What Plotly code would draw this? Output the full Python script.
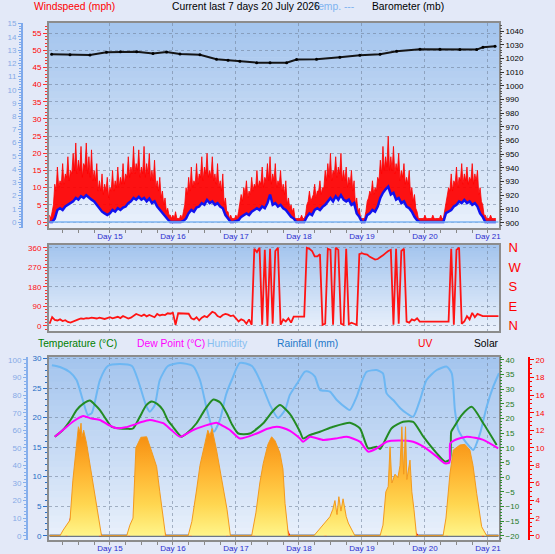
import plotly.graph_objects as go

W, H = 555, 554
FONT = "Liberation Sans, Arial, sans-serif"

# ---------------- data ----------------
day_ticks = [24, 48, 72, 96, 120, 144, 168]
day_labels = ["Day 15", "Day 16", "Day 17", "Day 18", "Day 19", "Day 20", "Day 21"]

# hours since Day 14 00:00
wind_hours = list(range(1, 172))
wind_gust = [2, 3, 11, 16, 12, 17, 14, 19, 15, 20,
             23, 18, 22, 17, 23, 19, 21, 15, 17, 12,
             14, 11, 13, 10, 15, 12, 16, 13, 17, 14,
             19, 16, 22, 17, 21, 16, 22, 17, 20, 15,
             18, 12, 13, 9, 7, 4, 2, 2, 3, 1,
             2, 3, 10, 13, 16, 12, 17, 14, 19, 16,
             20, 15, 19, 14, 17, 12, 14, 7, 3, 2,
             1, 2, 3, 8, 10, 12, 9, 13, 11, 15,
             12, 16, 13, 17, 19, 14, 17, 12, 15, 11,
             12, 7, 5, 4, 1, 1, 2, 1, 5, 9,
             7, 11, 9, 12, 10, 15, 17, 20, 15, 19,
             16, 20, 15, 16, 13, 15, 12, 7, 4, 1,
             1, 6, 9, 12, 10, 13, 18, 22, 19, 25,
             19, 22, 17, 20, 15, 17, 13, 15, 10, 8,
             3, 1, 1, 2, 1, 1, 2, 1, 1, 2,
             1, 6, 10, 14, 12, 16, 13, 17, 14, 16,
             13, 17, 14, 15, 10, 5, 2, 1, 2, 1, 1]
# gust readings at the half hours (h + 0.5, h = 1..170)
gust_mid_hours = [h + 0.5 for h in range(1, 171)]
gust_mid = [1, 5, 9, 10, 11, 11, 13, 12, 14, 15,
            14, 15, 13, 16, 14, 13, 12, 12, 9, 9,
            8, 9, 7, 9, 9, 10, 10, 11, 11, 13,
            13, 14, 14, 15, 13, 14, 13, 14, 12, 12,
            10, 9, 7, 5, 3, 2, 1, 1, 1, 1,
            1, 5, 8, 9, 10, 11, 11, 13, 12, 14,
            13, 13, 12, 11, 10, 9, 5, 3, 1, 1,
            1, 1, 5, 6, 8, 7, 8, 9, 10, 10,
            11, 10, 12, 12, 11, 12, 10, 11, 9, 8,
            5, 4, 3, 1, 1, 1, 1, 2, 6, 6,
            8, 7, 9, 8, 10, 12, 13, 12, 14, 13,
            14, 12, 12, 10, 11, 9, 5, 3, 1, 1,
            3, 7, 8, 8, 9, 12, 14, 15, 16, 15,
            15, 14, 15, 12, 13, 11, 11, 8, 6, 4,
            1, 1, 1, 1, 1, 1, 1, 1, 1, 1,
            3, 7, 9, 9, 11, 10, 12, 11, 12, 11,
            12, 11, 12, 8, 6, 2, 1, 1, 1, 1]
wind_avg = [0, 0, 1, 3.5, 4, 3.5, 4.5, 5, 5.5, 6,
            7, 6.5, 7.5, 7, 7.8, 7, 6.5, 6, 5, 4,
            3, 2.5, 2, 2.5, 3.5, 3, 4, 3.5, 4.2, 4.5,
            5.5, 6, 7, 6.5, 7.3, 6.5, 7, 6, 6.8, 5.5,
            6, 4.5, 3.5, 2.5, 1.5, 0.8, 0, 0, 0, 0,
            0, 0.3, 1, 2.6, 3.5, 3, 4.2, 4.5, 5.5, 5,
            6.4, 5.5, 6, 5, 5.5, 4.5, 4, 2, 0.8, 0,
            0, 0.3, 0.5, 1.5, 2, 2.5, 2, 3, 3.5, 4,
            3.5, 4.5, 4, 5.5, 8, 5, 5.5, 4.5, 5, 4,
            3.5, 2.5, 1.5, 1, 0, 0, 0, 0, 1.5, 2.5,
            2, 3.5, 4, 3.5, 4.4, 5, 6, 7, 6, 7.5,
            6.5, 7.8, 6.5, 6, 6.5, 5, 5.5, 2.5, 1.5, 0,
            0, 2, 2.5, 3.5, 3, 4.5, 7, 8.5, 9.5, 10.3,
            8, 8.5, 6.5, 7, 5.5, 6, 4.5, 4, 3, 1.5,
            0.5, 0, 0, 0, 0, 0, 0, 0, 0, 0,
            0, 2.6, 3, 3.5, 4.5, 5, 6, 5.5, 6.4, 5.5,
            6, 5, 5.5, 4.5, 2.5, 1.5, 0, 0, 0, 0, 0]

rain_rate_hours = [1, 172]
rain_rate = [0, 0]

baro_hours = [1.8, 8.8, 16.4, 22.7, 28, 34.2, 40.4, 45.6, 50.7, 58.3, 64.6, 69, 73.5, 79.9,
              85, 91.3, 95.1, 102.7, 111.6, 119.2, 126.9, 133.2, 142.1, 149.7, 157.3, 163.7,
              166.1, 170.7]
baro_mb = [1023.0, 1022.6, 1022.5, 1024.5, 1024.8, 1024.9, 1023.5, 1024.7, 1023.2, 1022.7,
           1019.4, 1018.6, 1017.9, 1016.9, 1016.8, 1016.9, 1019.1, 1019.4, 1020.8, 1022.3,
           1023.0, 1025.2, 1026.6, 1026.6, 1026.4, 1026.4, 1028.1, 1028.9]

dir_hours = list(range(1, 173))
wind_dir = [10, 40, 28, 25, 30, 22, 26, 18, 15, 20,
            28, 30, 34, 32, 36, 35, 38, 36, 34, 38,
            35, 32, 36, 40, 35, 38, 42, 36, 45, 40,
            34, 38, 48, 55, 50, 45, 52, 44, 50, 46,
            40, 55, 48, 52, 50, 58, 56, 60, 5, 58,
            58, 58, 58, 56, 35, 30, 40, 25, 38, 45,
            40, 55, 65, 60, 45, 40, 50, 55, 52, 45,
            48, 35, 20, 30, 25, 10, 30, 5, 355, 340,
            360, 5, 350, 0, 355, 10, 345, 360, 5, 30,
            20, 35, 15, 43, 43, 43, 43, 43, 360, 355,
            345, 320, 320, 330, 5, 10, 355, 350, 5, 360,
            350, 10, 5, 355, 8, 15, 10, 5, 330, 335,
            330, 328, 318, 310, 305, 308, 315, 325, 335, 345,
            350, 5, 355, 10, 345, 355, 20, 15, 30, 25,
            35, 20, 20, 20, 20, 20, 20, 20, 20, 20,
            20, 20, 20, 355, 5, 350, 360, 10, 20, 45,
            30, 60, 40, 55, 50, 45, 45, 45, 45, 45, 45, 45]
compass_ticks = [0, 90, 180, 270, 360]
compass_labels = ["N", "E", "S", "W", "N"]

temp_hours = [3, 6.1, 9, 11.3, 14, 16.4, 18, 20.2, 22.5, 24.6,
              27.8, 30.5, 32.8, 35.4, 37.8, 39.9, 42, 44.2, 46, 48,
              51.3, 53.2, 57, 60.5, 63.4, 66, 68.5, 70.5, 72.9, 77.3,
              82.4, 86, 88.8, 92.6, 96.4, 97.6, 100.2, 104, 109, 115.4,
              119.2, 122.4, 125.6, 126.9, 131.3, 135.7, 139.5, 143.4, 148.5, 151.6,
              153.5, 154.0, 155, 158, 161.8, 166.2, 171.3]
temp_c = [13.8, 16.1, 19.5, 22.9, 25.2, 26.2, 25.0, 22.9, 19.8, 17.2,
          16.6, 16.5, 16.6, 20.6, 24.5, 25.8, 25.0, 22.9, 19.5, 17.2,
          13.8, 14.9, 18.4, 23.5, 26.5, 25.5, 21.8, 18.0, 14.9, 14.9,
          18.4, 22.5, 24.6, 21.5, 15.5, 13.2, 14.4, 15.5, 17.2, 18.6,
          16.7, 9.8, 10.4, 9.6, 16.7, 18.9, 18.9, 13.8, 8.1, 5.3,
          6.0, 15.5, 17.0, 21.2, 24.0, 18.4, 11.0]

dew_hours = [3, 6.1, 10, 13.8, 17, 20.2, 23.5, 26.6, 30, 32.9,
             36, 39.2, 42, 44.3, 47.5, 50.7, 55.7, 60, 64.6, 67,
             69.7, 73.5, 79.9, 84, 87.5, 90, 92.6, 96.4, 97.6, 100.2,
             105.3, 110, 114.2, 119.2, 122.4, 125.6, 129.4, 134, 139.5, 143.4,
             148.5, 151.6, 153.3, 153.6, 155, 159.9, 166.2, 171.9]
dew_c = [13.8, 16.1, 19.0, 20.9, 20.0, 19.5, 17.8, 16.7, 17.0, 17.8,
         18.8, 19.5, 19.0, 18.4, 16.0, 13.8, 16.1, 17.5, 18.6, 17.5,
         16.1, 13.2, 14.9, 16.5, 17.2, 16.8, 15.8, 13.2, 12.1, 13.8,
         12.7, 13.2, 13.8, 12.1, 8.7, 9.8, 12.1, 12.5, 12.1, 10.4,
         7.0, 4.7, 5.0, 11.5, 12.5, 13.8, 12.7, 9.8]

hum_hours = [1.9, 5, 8.8, 11.3, 13.7, 15.6, 17.1, 20.2, 23.2, 27.8,
             32.4, 34.7, 37.7, 39.2, 41.1, 43, 46.1, 50.7, 55.6, 58.3,
             61, 63.6, 65.9, 68.2, 70.4, 73.5, 78.1, 81.1, 85, 88,
             90.7, 92.5, 95.2, 98.3, 100.2, 102.1, 104, 107.8, 110.4, 114.2,
             115.4, 118, 119.9, 121.8, 125.6, 128, 129.4, 131.9, 134.5, 137,
             139.5, 142.1, 144.6, 148.5, 152.3, 154.2, 155.4, 156.7, 159.9, 162.4,
             165, 167.5, 170, 172.2]
humidity = [97, 96, 93, 88.6, 77, 68.7, 69.8, 88.6, 96.6, 97.7,
            96.6, 88.6, 74.4, 70.6, 74.4, 88.6, 96.6, 98.3, 96.6, 88.6,
            71.5, 59.2, 65.9, 80.1, 88.6, 98.3, 96.6, 88.6, 74.4, 67,
            71.5, 80, 86.4, 93.4, 93, 90.5, 83, 82, 77.2, 72.5,
            71.5, 79.1, 87.6, 93.3, 94.3, 92.4, 81, 77.2, 72.7, 69.7,
            67.7, 77.2, 88.6, 94.3, 96.2, 92.4, 71.5, 60.2, 52.6, 48.8,
            58.3, 73.4, 84.8, 92.5]

rain_hours = [1, 172]
rain_mm = [0, 0]

solar_hours = [1, 5, 6.2, 8.8, 9.9, 11.3, 12.0, 12.6, 13.0, 13.3, 14.0, 15.1, 17.0, 18.9, 20.2, 20.8,
               30.4, 31.6, 32.8, 33.9, 35.8, 38.0, 39.9, 41.8, 43.0, 44.0, 45.2,
               53.8, 55.2, 57.0, 58.3, 60.2, 61.3, 62.1, 62.9, 64.6, 65.9, 67.2, 68.6, 69.9,
               78.0, 79.6, 81.1, 82.4, 84.2, 85.6, 86.9, 88.8, 89.9, 90.7, 92.0,
               101.7, 104.0, 107.8, 108.9, 109.7, 110.5, 111.2, 112.0, 112.8, 114.0, 114.8, 117.3,
               126.9, 128.0, 129.1, 130.0, 130.7, 131.4, 132.6, 133.7, 134.5, 135.2, 135.9, 136.6,
               137.1, 138.3, 139.0, 139.8, 140.8,
               150.9, 152.0, 153.5, 154.8, 157.3, 159.2, 161.1, 162.3, 163.7, 165.6, 167.5, 172.2]
solar_wm2 = [0, 0, 32, 89, 316, 506, 620, 590, 640, 560, 600, 526, 355, 165, 51, 0,
             0, 60, 100, 500, 560, 563, 480, 393, 250, 120, 0,
             0, 80, 260, 400, 526, 600, 570, 610, 488, 380, 278, 150, 0,
             0, 130, 300, 411, 520, 563, 540, 469, 380, 184, 0,
             0, 40, 108, 150, 200, 120, 222, 140, 210, 110, 72, 0,
             0, 60, 250, 280, 506, 300, 350, 330, 400, 620, 350, 620,
             320, 430, 250, 150, 0,
             0, 100, 350, 488, 516, 520, 488, 400, 241, 51, 0, 0]

uv_hours = [7.2, 8.8, 11.3, 11.8, 12.6, 13.8, 15.7, 17.6, 19.5, 20.6, None,
            30.9, 32.9, 35.4, 38, 40.5, 43, 45, None,
            54.5, 57, 60.2, 62.1, 64.6, 67.2, 69, None,
            78.5, 81.1, 84.9, 86.2, 86.9, 88.8, 91.3, 92.2, None,
            105.9, 107.2, 109.1, 111.6, 113.5, 115.4, 116.2, None,
            128.8, 129.4, 130.7, 131.9, 133.3, 135.2, 136.4, 137.6, 138.9, 140.2, 141, None,
            152, 152.9, 155.4, 158.6, 160.5, 161.8, 163.7, 165.6, 166.5]
uv_index = [0, 1.4, 4.4, 5.4, 5.2, 5.0, 3.7, 1.8, 0.4, 0, None,
            0, 0.9, 3.7, 4.8, 3.7, 1.3, 0, None,
            0, 1.8, 4.8, 5.2, 4.1, 1.4, 0, None,
            0, 1.8, 4.8, 5.3, 5.0, 3.7, 0.6, 0, None,
            0, 1.0, 2.2, 2.5, 1.0, 0.3, 0, None,
            0, 0.6, 4.1, 2.5, 4.8, 5.6, 4.1, 4.4, 2.2, 0.3, 0, None,
            0, 0.6, 3.7, 5.2, 4.4, 2.5, 1.0, 0.2, 0]

# merge hourly and half-hourly gust readings in time order
gust_x, gust_y = [], []
for i, h in enumerate(wind_hours):
    gust_x.append(h)
    gust_y.append(wind_gust[i])
    if i < len(gust_mid):
        gust_x.append(gust_mid_hours[i])
        gust_y.append(gust_mid[i])

# ---------------- layout geometry ----------------
X0, X1 = 49, 499
XR = [0.8, 172.2]
P1 = (23, 228)
P2 = (245, 331)
P3 = (357, 540)


def dom(p):
    return [1 - p[1] / H, 1 - p[0] / H]


GRID = "rgba(110,125,150,0.55)"
BORDER = "#8C8C8C"
DIR_RANGE = [-23.5, 372.5]

fig = go.Figure()

# ---- panel 1: wind + barometer ----
fig.add_trace(go.Scatter(x=wind_hours, y=wind_avg, xaxis="x3", yaxis="y8", mode="lines",
                         line=dict(width=0, color="rgba(0,0,0,0)"), hoverinfo="skip"))
fig.add_trace(go.Scatter(x=gust_x, y=gust_y, xaxis="x3", yaxis="y8", mode="lines",
                         fill="tonexty", fillcolor="rgba(255,0,0,0.93)",
                         line=dict(color="#FF0000", width=0.8)))
fig.add_trace(go.Scatter(x=rain_rate_hours, y=rain_rate, xaxis="x3", yaxis="y9", mode="lines",
                         line=dict(color="#7DB4F2", width=1.5)))
fig.add_trace(go.Scatter(x=wind_hours, y=wind_avg, xaxis="x3", yaxis="y8", mode="lines",
                         line=dict(color="#1212EE", width=2.5)))
fig.add_trace(go.Scatter(x=baro_hours, y=baro_mb, xaxis="x3", yaxis="y10", mode="lines+markers",
                         line=dict(color="#151515", width=2), marker=dict(size=3, color="#000")))

# ---- panel 2: direction ----
fig.add_trace(go.Scatter(x=dir_hours, y=wind_dir, xaxis="x2", yaxis="y6", mode="lines",
                         line=dict(color="#FF1414", width=1.8)))
fig.add_trace(go.Scatter(x=dir_hours[:1], y=wind_dir[:1], xaxis="x2", yaxis="y7", mode="lines",
                         line=dict(width=0), hoverinfo="skip"))

# ---- panel 3 ----
fig.add_trace(go.Scatter(x=solar_hours, y=solar_wm2, xaxis="x", yaxis="y5", mode="lines",
                         fill="tozeroy",
                         fillgradient=dict(type="vertical", start=0, stop=600,
                                           colorscale=[[0, "#FFF58A"], [0.3, "#FFD650"],
                                                       [0.6, "#FFB532"], [1, "#F58A0C"]]),
                         line=dict(color="#F39A1E", width=1)))
fig.add_trace(go.Scatter(x=rain_hours, y=rain_mm, xaxis="x", yaxis="y", mode="lines",
                         line=dict(color="#6B7787", width=2.5)))
fig.add_trace(go.Scatter(x=hum_hours, y=humidity, xaxis="x", yaxis="y2", mode="lines",
                         line=dict(color="#6DB7F3", width=2, shape="spline", smoothing=0.6)))
fig.add_trace(go.Scatter(x=temp_hours, y=temp_c, xaxis="x", yaxis="y3", mode="lines",
                         line=dict(color="#238B23", width=2, shape="spline", smoothing=0.6)))
fig.add_trace(go.Scatter(x=dew_hours, y=dew_c, xaxis="x", yaxis="y3", mode="lines",
                         line=dict(color="#FF00FF", width=2, shape="spline", smoothing=0.6)))
fig.add_trace(go.Scatter(x=uv_hours, y=uv_index, xaxis="x", yaxis="y4", mode="lines",
                         line=dict(color="#FF0000", width=2.8)))


def tf(color, size=8):
    return dict(family=FONT, size=size, color=color)


xbase = dict(range=XR, domain=[X0 / W, X1 / W], showgrid=True, gridcolor=GRID, griddash="dot",
             gridwidth=1, tickmode="array", tickvals=day_ticks, ticktext=day_labels,
             zeroline=False, showline=True, linecolor=BORDER, linewidth=2, mirror=True,
             automargin=False)
xlab = dict(ticks="outside", ticklen=3, tickcolor="#888", tickfont=tf("#2B2BCF", 8),
            ticklabelstandoff=-4,
            minor=dict(tickmode="linear", tick0=0, dtick=6, ticks="outside", ticklen=3,
                       tickcolor="#888", showgrid=False))


def yax(**kw):
    d = dict(zeroline=False, showgrid=False, automargin=False, tickmode="linear", tick0=0)
    d.update(kw)
    return d


layout = dict(
    width=W, height=H, margin=dict(l=0, r=0, t=0, b=0),
    paper_bgcolor="#E3E9F8", plot_bgcolor="rgba(0,0,0,0)", showlegend=False,
    xaxis=dict(**xbase, anchor="y", **xlab),
    xaxis2=dict(**xbase, anchor="y6", showticklabels=False, ticks=""),
    xaxis3=dict(**xbase, anchor="y8", **xlab),
    # panel 3
    yaxis=yax(domain=dom(P3), range=[-0.73, 30.25], anchor="x", side="left", dtick=5,
              showline=True, linecolor=BORDER, linewidth=2, mirror=True,
              showgrid=True, gridcolor=GRID, griddash="dot",
              ticks="outside", ticklen=4, tickcolor="#2A70C8", tickfont=tf("#1E6CC4"),
              minor=dict(dtick=1, ticks="outside", ticklen=2, tickcolor="#2A70C8")),
    yaxis2=yax(overlaying="y", anchor="free", position=27 / W, side="left",
               range=[-2.45, 101.7], dtick=10, showline=True, linecolor="#86AFEC", linewidth=2,
               ticks="outside", ticklen=3, tickcolor="#86AFEC", tickfont=tf("#86AAE6"),
               minor=dict(dtick=2, ticks="outside", ticklen=2, tickcolor="#86AFEC")),
    yaxis3=yax(overlaying="y", anchor="x", side="right", range=[-21.47, 41.02], dtick=5,
               ticks="outside", ticklen=4, tickcolor="#2E8B2E", tickfont=tf("#1E7A1E"),
               minor=dict(dtick=1, ticks="outside", ticklen=2, tickcolor="#2E8B2E")),
    yaxis4=yax(overlaying="y", anchor="free", position=529 / W, side="right",
               range=[-0.49, 20.34], dtick=2, showline=True, linecolor="#FF0000", linewidth=2,
               ticks="outside", ticklen=4, tickcolor="#FF0000", tickfont=tf("#FF0000"),
               minor=dict(dtick=0.5, ticks="outside", ticklen=2, tickcolor="#FF0000")),
    yaxis5=dict(overlaying="y", range=[-24.5, 1017], visible=False),
    # panel 2
    yaxis6=yax(domain=dom(P2), anchor="x2", range=DIR_RANGE, dtick=90,
               showline=True, linecolor=BORDER, linewidth=2, mirror=True,
               showgrid=True, gridcolor=GRID, griddash="dot",
               ticks="outside", ticklen=4, tickcolor="#FF3030", tickfont=tf("#FF1010"),
               minor=dict(dtick=15, ticks="outside", ticklen=2, tickcolor="#FF3030")),
    yaxis7=dict(overlaying="y6", anchor="x2", side="right", range=DIR_RANGE,
                tickmode="array", tickvals=compass_ticks, ticktext=compass_labels,
                ticks="outside", ticklen=6, tickcolor="rgba(0,0,0,0)",
                tickfont=tf("#FF0000", 13), showgrid=False, zeroline=False, automargin=False),
    # panel 1
    yaxis8=yax(domain=dom(P1), anchor="x3", range=[-1.746, 57.92], dtick=5,
               showline=True, linecolor=BORDER, linewidth=2, mirror=True,
               showgrid=True, gridcolor=GRID, griddash="dot",
               ticks="outside", ticklen=4, tickcolor="#FF3030", tickfont=tf("#FF0000"),
               minor=dict(dtick=1, ticks="outside", ticklen=2, tickcolor="#FF3030")),
    yaxis9=yax(overlaying="y8", anchor="free", position=22 / W, side="left",
               range=[-0.454, 15.05], dtick=1, showline=True, linecolor="#7EA9EC", linewidth=2,
               ticks="outside", ticklen=3, tickcolor="#7EA9EC", tickfont=tf("#86AAE6"),
               minor=dict(dtick=0.2, ticks="outside", ticklen=2, tickcolor="#7EA9EC")),
    yaxis10=yax(overlaying="y8", anchor="x3", side="right", range=[896.13, 1045.84], dtick=10,
                ticks="outside", ticklen=4, tickcolor="#333", tickfont=tf("#000000"),
                minor=dict(dtick=2, ticks="outside", ticklen=2, tickcolor="#555")),
)

# gradient plot backgrounds
shapes = []
top_c = (164, 197, 238)
bot_c = (233, 240, 251)
N = 30
for (pt, pb) in (P1, P2, P3):
    for i in range(N):
        f = i / (N - 1)
        c = tuple(int(round(top_c[k] + (bot_c[k] - top_c[k]) * f)) for k in range(3))
        y_top = pt + (pb - pt) * i / N
        y_bot = pt + (pb - pt) * (i + 1) / N + 0.6
        shapes.append(dict(type="rect", xref="paper", yref="paper", layer="below",
                           x0=X0 / W, x1=X1 / W, y0=1 - y_bot / H, y1=1 - y_top / H,
                           fillcolor="rgb(%d,%d,%d)" % c, line=dict(width=0)))
layout["shapes"] = shapes


def label(text, x, y, color, size=10.3):
    return dict(text=text, x=x / W, y=1 - y / H, xref="paper", yref="paper",
                xanchor="left", yanchor="middle", showarrow=False,
                font=dict(family=FONT, size=size, color=color))


layout["annotations"] = [
    label("Windspeed (mph)", 32, 6.5, "#FF0000"),
    label("Temp. ---", 311, 6.5, "#7FB4F0"),
    label("Current last 7 days 20 July 2026", 170, 6.5, "#000000"),
    label("Barometer (mb)", 370, 6.5, "#000000"),
    label("Temperature (°C)", 36, 343, "#008000"),
    label("Dew Point (°C)", 135, 343, "#FF00FF"),
    label("Humidity", 205, 343, "#87BEF0"),
    label("Rainfall (mm)", 275, 343, "#1E78C8"),
    label("UV", 416, 343, "#FF0000"),
    label("Solar", 472, 343, "#000000"),
]

fig.update_layout(**layout)
fig.write_html("out.html")
